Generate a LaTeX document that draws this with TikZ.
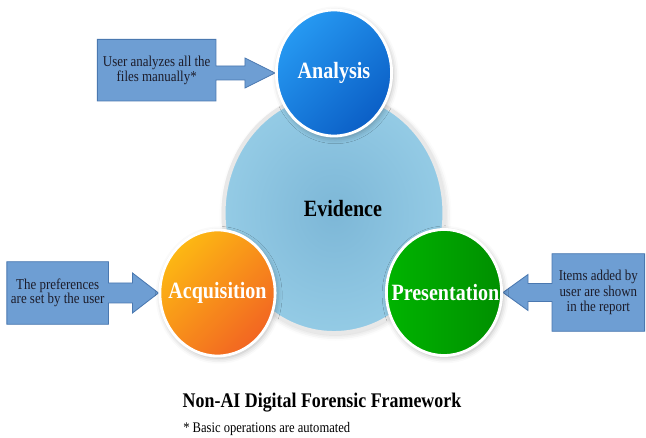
\documentclass[tikz,border=0pt]{standalone}
\usepackage{fontspec}
\setmainfont{Liberation Serif}[FakeStretch=0.86]
\usepackage{tikz}
\usetikzlibrary{positioning,calc,shapes.geometric,shadows.blur,backgrounds}

\definecolor{anatop}{HTML}{2699F2}
\definecolor{anabot}{HTML}{0B5FC6}
\definecolor{acqtop}{HTML}{FDB813}
\definecolor{acqbot}{HTML}{F26522}
\definecolor{preleft}{HTML}{00B400}
\definecolor{preright}{HTML}{008F00}
\definecolor{evidin}{HTML}{7DB7D7}
\definecolor{evidout}{HTML}{94CBE5}
\definecolor{ring}{HTML}{E8E8E8}
\definecolor{notefill}{HTML}{6E9ED3}
\definecolor{notedraw}{HTML}{4A78B0}
\definecolor{notetext}{HTML}{1C1C2A}

\begin{document}
\begin{tikzpicture}[
    x=0.025cm, y=-0.025cm,
    stage/.style={ellipse, draw=white, line width=2pt, minimum width=2.88cm, minimum height=3.15cm, inner sep=0pt,
        blur shadow={shadow xshift=1pt, shadow yshift=-1.5pt, shadow blur radius=4pt, shadow opacity=30}},
    stagetext/.style={text=white, font=\fontsize{16.6}{18}\selectfont\bfseries},
    note/.style={fill=notefill, draw=notedraw, line width=0.6pt, line join=miter},
    notetext/.style={align=center, inner sep=0pt, text=notetext, font=\fontsize{10.7}{10.4}\selectfont}
]
\useasboundingbox (0,0) rectangle (646,438);

% evidence in the middle, three stages round it
\node[ellipse, draw=ring, line width=2.8pt, minimum width=5.52cm, minimum height=6cm, inner color=evidin, outer color=evidout,
    blur shadow={shadow xshift=1pt, shadow yshift=-1.5pt, shadow blur radius=4pt, shadow opacity=20}] (evid) at (334,213) {};
\node[font=\fontsize{16.6}{18}\selectfont\bfseries] (evidlabel) at ($(evid)+(9,-4)$) {Evidence};

\node[stage, top color=anatop, bottom color=anabot, shading angle=45, label={[stagetext]center:Analysis}] (ana) at (334,73) {};
\node[stage, top color=acqtop, bottom color=acqbot, shading angle=45, label={[stagetext]center:Acquisition}] (acq) at (217.5,293) {};
\node[stage, left color=preleft, right color=preright, label={[stagetext, xshift=1pt]center:Presentation}] (pre) at (444,292.5) {};

% notes pointing at the stages
\node[notetext, minimum width=2.95cm, minimum height=1.525cm, left=1.475cm of ana, yshift=2pt] (anote) {User analyzes all the\\files manually*};
\node[notetext, minimum width=2.525cm, minimum height=1.55cm, left=1.25cm of acq] (qnote) {The preferences\\are set by the user};
\node[notetext, minimum width=2.3cm, minimum height=1.925cm, right=1.225cm of pre, font=\fontsize{10.7}{10.9}\selectfont] (pnote) {Items added by\\user are shown\\in the report};

\begin{scope}[on background layer]
\draw[note] (anote.north west) -- (anote.north east) -- ($(anote.east |- ana.west)+(0,-7)$) -- ($(ana.west)+(-30,-7)$)
    -- ($(ana.west)+(-30,-15)$) -- (ana.west) -- ($(ana.west)+(-30,15)$) -- ($(ana.west)+(-30,7)$)
    -- ($(anote.east |- ana.west)+(0,7)$) -- (anote.south east) -- (anote.south west) -- cycle;
\draw[note] (qnote.north west) -- (qnote.north east) -- ($(qnote.east |- acq.west)+(0,-10)$) -- ($(acq.west)+(-26,-10)$)
    -- ($(acq.west)+(-26,-20)$) -- (acq.west) -- ($(acq.west)+(-26,20)$) -- ($(acq.west)+(-26,10)$)
    -- ($(qnote.east |- acq.west)+(0,10)$) -- (qnote.south east) -- (qnote.south west) -- cycle;
\draw[note] (pnote.north east) -- (pnote.north west) -- ($(pnote.west |- pre.east)+(0,-9)$) -- ($(pre.east)+(25,-9)$)
    -- ($(pre.east)+(25,-18)$) -- (pre.east) -- ($(pre.east)+(25,18)$) -- ($(pre.east)+(25,9)$)
    -- ($(pnote.west |- pre.east)+(0,9)$) -- (pnote.south west) -- (pnote.south east) -- cycle;
\end{scope}

\node[font=\fontsize{14.8}{16}\selectfont\bfseries] (title) at (322,403) {Non-AI Digital Forensic Framework};
\node[anchor=west, inner sep=0pt, font=\fontsize{10.4}{12}\selectfont] (foot) at (183,429) {* Basic operations are automated};
\end{tikzpicture}
\end{document}
